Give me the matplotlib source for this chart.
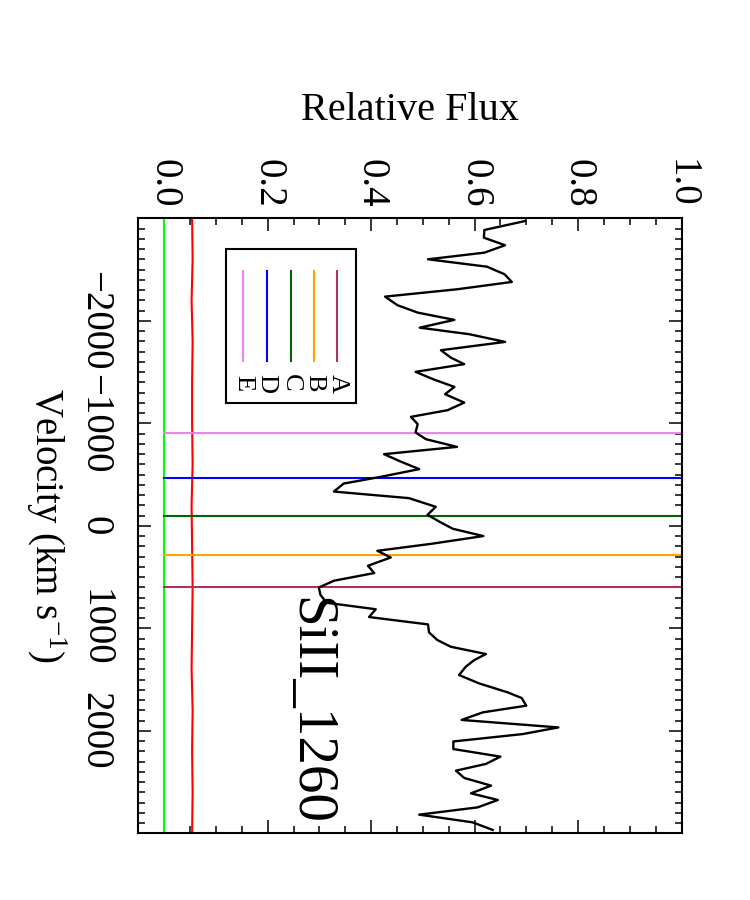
import matplotlib
matplotlib.use("Agg")
import matplotlib.pyplot as plt
from matplotlib.patches import Rectangle
from matplotlib.ticker import MultipleLocator

plt.rcParams['font.family'] = ['Liberation Serif', 'DejaVu Serif']
plt.rcParams['mathtext.fontset'] = 'custom'
plt.rcParams['mathtext.rm'] = 'Liberation Serif'
plt.rcParams['mathtext.it'] = 'Liberation Serif:italic'
plt.rcParams['axes.unicode_minus'] = True

# ---- data ----
velocity = [-2974, -2886, -2811, -2737, -2665, -2600, -2528, -2454, -2379, -2308,
            -2236, -2152, -2080, -2009, -1933, -1869, -1794, -1713, -1641, -1577,
            -1502, -1428, -1355, -1284, -1202, -1128, -1063, -992, -910, -845,
            -770, -699, -627, -553, -478, -412, -334, -270, -185, -107,
            -32, 29, 100, 176, 244, 309, 390, 461, 536, 602,
            673, 751, 814, 890, 962, 1040, 1114, 1180, 1251, 1311,
            1375, 1456, 1538, 1625, 1680, 1755, 1820, 1894, 1967, 2032,
            2104, 2178, 2252, 2323, 2389, 2460, 2535, 2610, 2675, 2747,
            2818, 2893, 2967]
flux = [0.698, 0.619, 0.618, 0.659, 0.619, 0.510, 0.624, 0.658, 0.672, 0.567,
        0.427, 0.451, 0.490, 0.561, 0.494, 0.590, 0.659, 0.535, 0.554, 0.580,
        0.486, 0.521, 0.561, 0.543, 0.580, 0.548, 0.477, 0.490, 0.486, 0.506,
        0.566, 0.425, 0.457, 0.493, 0.419, 0.347, 0.328, 0.473, 0.525, 0.509,
        0.535, 0.558, 0.617, 0.516, 0.412, 0.438, 0.394, 0.406, 0.328, 0.299,
        0.302, 0.314, 0.409, 0.396, 0.510, 0.512, 0.528, 0.554, 0.622, 0.599,
        0.583, 0.570, 0.609, 0.664, 0.691, 0.700, 0.616, 0.575, 0.762, 0.693,
        0.559, 0.559, 0.650, 0.622, 0.564, 0.580, 0.632, 0.593, 0.645, 0.606,
        0.493, 0.596, 0.635]

err_velocity = [-3000, -2600, -2200, -1800, -1400, -1000, -600, -200,
                200, 600, 1000, 1400, 1800, 2200, 2600, 3000]
err_flux = [0.054, 0.055, 0.053, 0.055, 0.054, 0.054, 0.055, 0.053,
            0.054, 0.055, 0.054, 0.053, 0.055, 0.054, 0.055, 0.054]

component_names = ['A', 'B', 'C', 'D', 'E']
component_velocity = [601, 283, -97, -468, -904]
component_colors = ['#B03060', '#FFA500', '#006400', '#0000FF', '#EE82EE']

line_label = 'SiII_1260'
flux_ticks = [0.0, 0.2, 0.4, 0.6, 0.8, 1.0]
vel_ticks = [-2000, -1000, 0, 1000, 2000]

# ---- figure ----
W, H = 750, 900
fig = plt.figure(figsize=(7.5, 9), dpi=100)
left, right, top, bottom = 138.3, 681.5, 218.3, 833.3
ax = fig.add_axes([left / W, 1 - bottom / H, (right - left) / W, (bottom - top) / H])

ax.set_xlim(-0.05, 1.0)
ax.set_ylim(3000, -3000)

# zero line and error spectrum
ax.plot([0, 0], [-3000, 3000], color='#00FF00', lw=1.5, zorder=2)
ax.plot(err_flux, err_velocity, color='#FF0000', lw=1.5, zorder=2)

# component markers
for v, c in zip(component_velocity, component_colors):
    ax.plot([0, 1.0], [v, v], color=c, lw=1.5, zorder=2)

# spectrum
ax.plot(flux, velocity, color='black', lw=1.7, zorder=3)

# axes styling
for s in ax.spines.values():
    s.set_linewidth(1.5)
ax.xaxis.set_major_locator(MultipleLocator(0.2))
ax.xaxis.set_minor_locator(MultipleLocator(0.05))
ax.yaxis.set_major_locator(MultipleLocator(1000))
ax.yaxis.set_minor_locator(MultipleLocator(100))
ax.set_xticks(flux_ticks)
ax.set_xticklabels([f'{t:.1f}' for t in flux_ticks])
ax.set_yticks(vel_ticks)
ax.set_yticklabels([f'{t:d}'.replace('-', '\u2212') for t in vel_ticks])
ax.tick_params(which='both', direction='in', top=True, bottom=True, left=True, right=True,
               labeltop=True, labelbottom=False, labelleft=True, labelright=False,
               width=1.1, colors='black')
ax.tick_params(which='major', length=9.5)
ax.tick_params(which='minor', length=5)
ax.tick_params(axis='x', labelsize=28, pad=8, labelrotation=270)
ax.tick_params(axis='y', labelsize=28, pad=18, labelrotation=270)
for lab in ax.get_yticklabels():
    lab.set_verticalalignment('center')

# axis titles
fig.text(410 / W, 1 - 110 / H, 'Relative Flux', fontsize=29, ha='center', va='center')
fig.text(46 / W, 1 - 525 / H, 'Velocity (km s$^{-1}$)', fontsize=28, rotation=270,
         ha='center', va='center')

# line label
ax.text((283 - left) / (right - left), 1 - (597 - top) / (bottom - top), line_label,
        transform=ax.transAxes, fontsize=41, rotation=270, ha='left', va='top')

# legend (drawn manually, rotated like the rest)
def ax_x(px):
    return (px - left) / (right - left)

def ax_y(py):
    return 1 - (py - top) / (bottom - top)

ax.add_patch(Rectangle((ax_x(225.7), ax_y(403.3)), ax_x(355.7) - ax_x(225.7),
                       ax_y(249.3) - ax_y(403.3), transform=ax.transAxes,
                       fill=False, edgecolor='black', lw=1.5, zorder=4))
leg_x = [337.3, 314.0, 290.7, 266.7, 243.3]
for name, c, lx in zip(component_names, component_colors, leg_x):
    ax.plot([ax_x(lx), ax_x(lx)], [ax_y(271), ax_y(360.7)], color=c, lw=1.5,
            transform=ax.transAxes, zorder=4)
    ax.text(ax_x(lx), ax_y(383), name, transform=ax.transAxes, fontsize=19,
            rotation=270, ha='center', va='center', zorder=4)

fig.savefig('out.png', dpi=100, facecolor='white')
